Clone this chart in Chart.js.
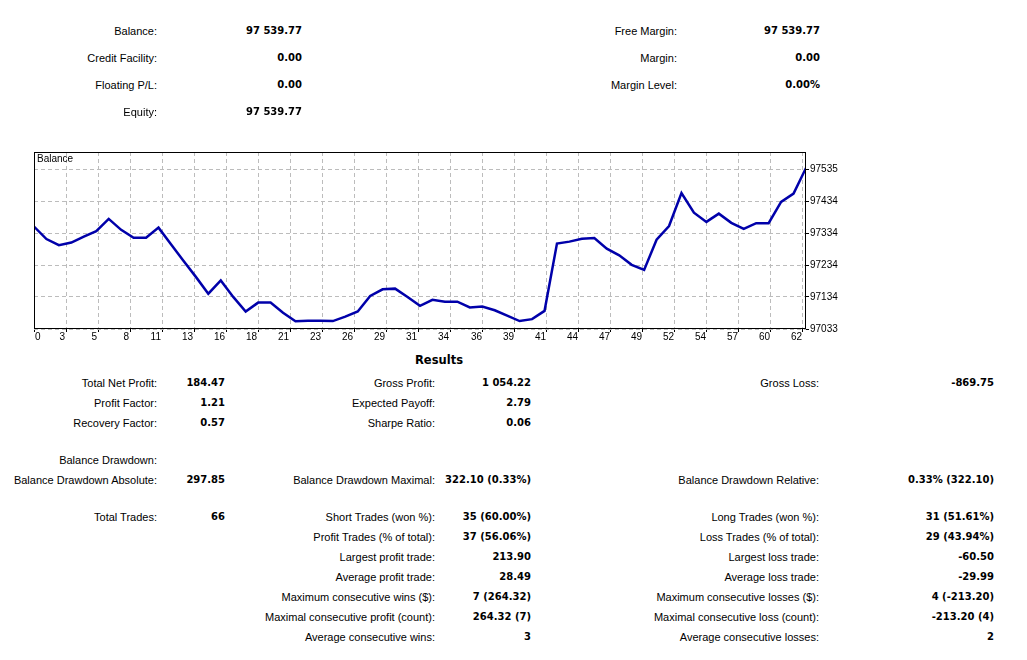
<!DOCTYPE html>
<html>
<head>
<meta charset="utf-8">
<script src="https://cdn.jsdelivr.net/npm/chart.js"></script>
<style>
  html, body { margin: 0; padding: 0; background: #fff; }
  body { width: 1027px; height: 660px; position: relative; overflow: hidden; font-family: "Liberation Sans", Arial, sans-serif; font-size: 11px; color: #000; }
  .t { position: absolute; width: 400px; line-height: 14px; white-space: nowrap; text-align: right; }
  .b { font-family: "DejaVu Sans", sans-serif; font-weight: bold; font-size: 10px; }
  #box { position: absolute; left: 0; top: 145px; width: 861px; height: 201px; }
  #cap { position: absolute; left: 37px; top: 153px; font-size: 10px; }
  #res { position: absolute; left: 339px; top: 353px; width: 200px; text-align: center; font-family: "DejaVu Sans", sans-serif; font-weight: bold; font-size: 11.5px; }
</style>
</head>
<body>
<div id="box"><canvas id="balanceChart"></canvas></div>
<div id="cap">Balance</div>
<div id="res">Results</div>
<script>
  // balance after each closed trade
  const balance = [
    97355.30, 97316, 97297, 97305, 97324, 97341, 97379.55, 97345, 97320, 97320,
    97352, 97300, 97248, 97197, 97144, 97186, 97134, 97088, 97116, 97116,
    97084, 97057.45, 97059, 97059, 97058, 97072, 97088, 97137, 97158, 97160,
    97134, 97106, 97125, 97119, 97119, 97101, 97104, 97092, 97075, 97058,
    97064, 97090, 97302, 97308, 97317, 97319, 97286, 97265, 97235, 97219,
    97314, 97357, 97461, 97399, 97370, 97396, 97367, 97348, 97366, 97366,
    97433, 97459, 97539.77
  ];
  const xTickLabels = ['0', '3', '5', '8', '11', '13', '16', '18', '21', '23', '26', '29', '31',
    '34', '36', '39', '41', '44', '47', '49', '52', '54', '57', '60', '62'];
  const yTickValues = [97033, 97134, 97234, 97334, 97434, 97535];

  // account summary (label, value)
  const accountLeft = [['Balance:', '97 539.77'], ['Credit Facility:', '0.00'], ['Floating P/L:', '0.00'], ['Equity:', '97 539.77']];
  const accountRight = [['Free Margin:', '97 539.77'], ['Margin:', '0.00'], ['Margin Level:', '0.00%']];

  // results rows: y, then [label, value] for the three columns
  const resultRows = [
    [383, ['Total Net Profit:', '184.47'], ['Gross Profit:', '1 054.22'], ['Gross Loss:', '-869.75']],
    [403, ['Profit Factor:', '1.21'], ['Expected Payoff:', '2.79'], null],
    [423, ['Recovery Factor:', '0.57'], ['Sharpe Ratio:', '0.06'], null],
    [460, ['Balance Drawdown:', ''], null, null],
    [480, ['Balance Drawdown Absolute:', '297.85'], ['Balance Drawdown Maximal:', '322.10 (0.33%)'], ['Balance Drawdown Relative:', '0.33% (322.10)']],
    [517, ['Total Trades:', '66'], ['Short Trades (won %):', '35 (60.00%)'], ['Long Trades (won %):', '31 (51.61%)']],
    [537, null, ['Profit Trades (% of total):', '37 (56.06%)'], ['Loss Trades (% of total):', '29 (43.94%)']],
    [557, null, ['Largest profit trade:', '213.90'], ['Largest loss trade:', '-60.50']],
    [577, null, ['Average profit trade:', '28.49'], ['Average loss trade:', '-29.99']],
    [597, null, ['Maximum consecutive wins ($):', '7 (264.32)'], ['Maximum consecutive losses ($):', '4 (-213.20)']],
    [617, null, ['Maximal consecutive profit (count):', '264.32 (7)'], ['Maximal consecutive loss (count):', '-213.20 (4)']],
    [637, null, ['Average consecutive wins:', '3'], ['Average consecutive losses:', '2']]
  ];

  function put(text, right, cy, bold) {
    const d = document.createElement('div');
    d.className = bold ? 't b' : 't';
    d.style.left = (right - 400) + 'px';
    d.style.top = (cy - 7) + 'px';
    d.textContent = text;
    document.body.appendChild(d);
  }

  accountLeft.forEach((r, i) => { put(r[0], 157, 31 + i * 27); put(r[1], 302, 31 + i * 27, true); });
  accountRight.forEach((r, i) => { put(r[0], 677, 31 + i * 27); put(r[1], 820, 31 + i * 27, true); });

  const cols = [[157, 225], [435, 531], [819, 994]];
  resultRows.forEach(row => {
    for (let c = 0; c < 3; c++) {
      const cell = row[c + 1];
      if (!cell) continue;
      put(cell[0], cols[c][0], row[0]);
      if (cell[1]) put(cell[1], cols[c][1], row[0], true);
    }
  });

  Chart.defaults.font.family = '"Liberation Sans", Arial, sans-serif';
  Chart.defaults.font.size = 10;
  Chart.defaults.color = '#000';

  // black frame round the plot, and x labels drawn left of their tick (first one right of it)
  const frame = {
    id: 'frame',
    afterDraw(chart) {
      const a = chart.chartArea, c = chart.ctx, x = chart.scales.x;
      c.save();
      c.strokeStyle = '#000';
      c.lineWidth = 1;
      c.strokeRect(Math.round(a.left) + 0.5, Math.round(a.top) + 0.5, Math.round(a.right - a.left) - 1, Math.round(a.bottom - a.top) - 1);
      c.fillStyle = '#000';
      c.font = '10px "Liberation Sans", Arial, sans-serif';
      c.textBaseline = 'top';
      x.ticks.forEach((t, k) => {
        const px = Math.round(x.getPixelForValue(t.value));
        c.textAlign = k === 0 ? 'left' : 'right';
        c.fillText(xTickLabels[k], k === 0 ? px + 1 : px - 1, a.bottom + 3);
      });
      c.restore();
    }
  };

  const xTickStep = 2.573;
  const ctx = document.getElementById('balanceChart').getContext('2d');
  const balanceChart = new Chart(ctx, {
    type: 'line',
    data: {
      datasets: [{
        label: 'Balance',
        data: balance.map((v, i) => ({ x: i, y: v })),
        borderColor: '#0000aa',
        borderWidth: 2.5,
        pointRadius: 0,
        tension: 0,
        fill: false
      }]
    },
    options: {
      responsive: true,
      maintainAspectRatio: false,
      animation: false,
      layout: { padding: { left: 34, top: 5, right: 0, bottom: 0 } },
      plugins: {
        legend: { display: false },
        tooltip: { enabled: false }
      },
      scales: {
        x: {
          type: 'linear',
          min: 0,
          max: balance.length - 1,
          afterBuildTicks: axis => { axis.ticks = xTickLabels.map((l, k) => ({ value: k * xTickStep })); },
          afterFit: axis => { axis.height = 17; },
          border: { display: false, dash: [4, 3] },
          grid: { color: '#bcbcbc', tickColor: '#000', tickLength: 3, tickBorderDash: [] },
          ticks: { display: false }
        },
        y: {
          position: 'right',
          min: 97033,
          max: 97590,
          afterBuildTicks: axis => { axis.ticks = yTickValues.map(v => ({ value: v })); },
          afterFit: axis => { axis.width = 55; },
          border: { display: false, dash: [4, 3] },
          grid: { color: '#bcbcbc', tickColor: '#000', tickLength: 3, tickBorderDash: [] },
          ticks: { padding: 1, callback: v => String(v) }
        }
      }
    },
    plugins: [frame]
  });
</script>
</body>
</html>
